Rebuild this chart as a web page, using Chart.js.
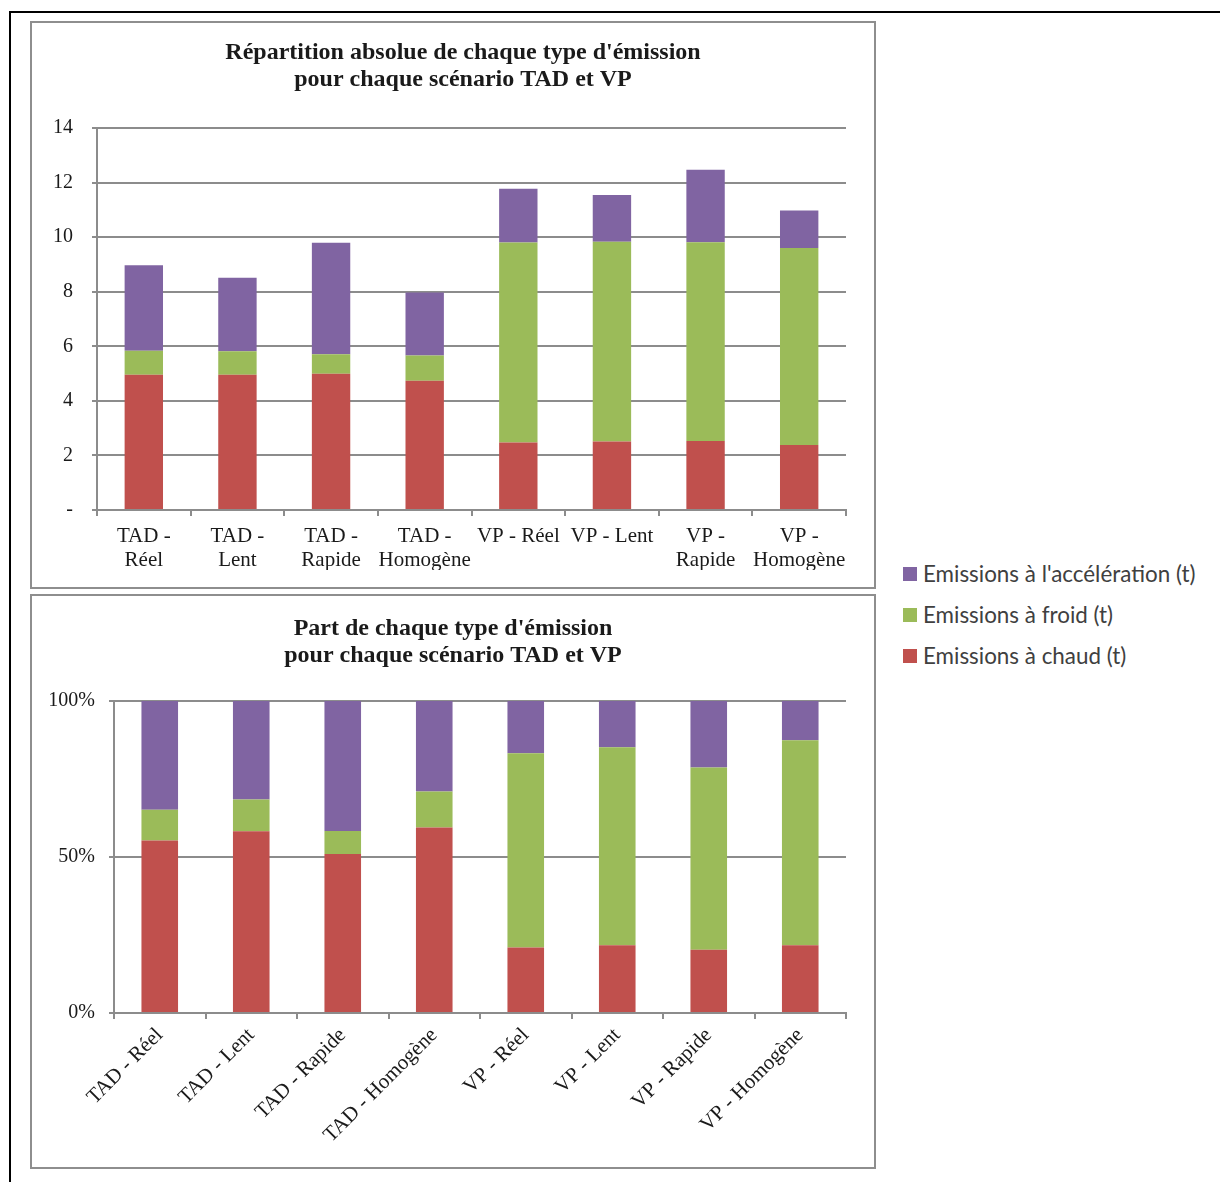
<!DOCTYPE html>
<html>
<head>
<meta charset="utf-8">
<script src="https://cdn.jsdelivr.net/npm/chart.js@4.4.0/dist/chart.umd.min.js"></script>
<style>
  body { margin: 0; background: #fff; width: 1220px; height: 1182px; position: relative; overflow: hidden; }
  #frame { position: absolute; left: 9px; top: 11px; width: 1300px; height: 1300px; border-top: 2px solid #000; border-left: 2px solid #000; }
  .box { position: absolute; left: 30px; width: 846px; border: 2px solid #8e8e8e; box-sizing: border-box; background: #fff; }
  #box1 { top: 21px; height: 568px; }
  #box2 { top: 594px; height: 575px; }
  .box canvas { display: block; }
  #legend { position: absolute; left: 903px; top: 553px; font-family: Lato, sans-serif; font-size: 22.4px; color: #404040; }
  .item { height: 41px; display: flex; align-items: center; }
  .sw { width: 14px; height: 14px; margin-right: 6px; }
</style>
</head>
<body>
<div id="frame"></div>
<div class="box" id="box1"><canvas id="absChart" width="842" height="564"></canvas></div>
<div class="box" id="box2"><canvas id="partChart" width="842" height="571"></canvas></div>
<div id="legend"></div>
<script>
var scenarios = ['TAD - Réel', 'TAD - Lent', 'TAD - Rapide', 'TAD - Homogène', 'VP - Réel', 'VP - Lent', 'VP - Rapide', 'VP - Homogène'];
var wrappedLabels = [['TAD -', 'Réel'], ['TAD -', 'Lent'], ['TAD -', 'Rapide'], ['TAD -', 'Homogène'], 'VP - Réel', 'VP - Lent', ['VP -', 'Rapide'], ['VP -', 'Homogène']];

// tonnes
var chaud = [4.96, 4.96, 4.99, 4.74, 2.47, 2.51, 2.53, 2.38];
var froid = [0.88, 0.86, 0.72, 0.92, 7.33, 7.32, 7.28, 7.22];
var accel = [3.13, 2.69, 4.08, 2.31, 1.97, 1.71, 2.66, 1.38];

var seriesNames = ['Emissions à chaud (t)', 'Emissions à froid (t)', "Emissions à l'accélération (t)"];
var colors = { red: '#C0504D', green: '#9BBB59', purple: '#8064A2', grid: '#8c8c8c', text: '#1a1a1a' };

var serif = 'Garamond, "Liberation Serif", "DejaVu Serif", serif';

function share(arr) {
  return arr.map(function(v, i) { return v / (chaud[i] + froid[i] + accel[i]) * 100; });
}

function datasets(a, b, c, barPct) {
  var vals = [a, b, c];
  var cols = [colors.red, colors.green, colors.purple];
  return vals.map(function(v, i) {
    return { label: seriesNames[i], data: v, backgroundColor: cols[i], barPercentage: barPct, categoryPercentage: 1 };
  });
}

// two-line title, the built-in one only centres on the full width
var boxTitle = {
  id: 'boxTitle',
  afterDraw: function(chart, args, opts) {
    var ctx = chart.ctx;
    ctx.save();
    ctx.font = 'bold 24px ' + serif;
    ctx.fillStyle = colors.text;
    ctx.textAlign = 'center';
    ctx.textBaseline = 'middle';
    opts.lines.forEach(function(t, i) { ctx.fillText(t, opts.x, opts.y + i * 27); });
    ctx.restore();
  }
};

Chart.defaults.font.family = serif;
Chart.defaults.color = colors.text;

var absChart = new Chart(document.getElementById('absChart').getContext('2d'), {
  type: 'bar',
  data: { labels: wrappedLabels, datasets: datasets(chaud, froid, accel, 0.41) },
  plugins: [boxTitle],
  options: {
    responsive: false,
    animation: false,
    layout: { padding: { left: 0, right: 28, top: 105, bottom: 17 } },
    plugins: {
      legend: { display: false },
      tooltip: { enabled: false },
      boxTitle: { lines: ["Répartition absolue de chaque type d'émission", 'pour chaque scénario TAD et VP'], x: 431, y: 30 }
    },
    scales: {
      x: {
        stacked: true,
        grid: { display: true, drawOnChartArea: false, drawTicks: true, tickLength: 6, color: colors.grid, lineWidth: 2, offset: true },
        border: { color: colors.grid, width: 2 },
        ticks: { font: { size: 21, lineHeight: 1.15 }, padding: 8, maxRotation: 0, autoSkip: false },
        afterFit: function(s) { s.height = 60; }
      },
      y: {
        stacked: true,
        min: 0,
        max: 14,
        ticks: { stepSize: 2, padding: 19, font: { size: 20 }, callback: function(v) { return v === 0 ? '-' : v; } },
        grid: { color: colors.grid, lineWidth: 2, tickLength: 5 },
        border: { color: colors.grid, width: 2 },
        afterFit: function(s) { s.width = 65; }
      }
    }
  }
});

var partChart = new Chart(document.getElementById('partChart').getContext('2d'), {
  type: 'bar',
  data: { labels: scenarios, datasets: datasets(share(chaud), share(froid), share(accel), 0.4) },
  plugins: [boxTitle],
  options: {
    responsive: false,
    animation: false,
    layout: { padding: { left: 0, right: 28, top: 105, bottom: 4 } },
    plugins: {
      legend: { display: false },
      tooltip: { enabled: false },
      boxTitle: { lines: ["Part de chaque type d'émission", 'pour chaque scénario TAD et VP'], x: 421, y: 33 }
    },
    scales: {
      x: {
        stacked: true,
        grid: { display: true, drawOnChartArea: false, drawTicks: true, tickLength: 6, color: colors.grid, lineWidth: 2, offset: true },
        border: { color: colors.grid, width: 2 },
        ticks: { font: { size: 21 }, padding: 4, minRotation: 45, maxRotation: 45, autoSkip: false },
        afterFit: function(s) { s.height = 150; }
      },
      y: {
        stacked: true,
        min: 0,
        max: 100,
        ticks: { stepSize: 50, padding: 14, font: { size: 20 }, callback: function(v) { return v + '%'; } },
        grid: { color: colors.grid, lineWidth: 2, tickLength: 5 },
        border: { color: colors.grid, width: 2 },
        afterFit: function(s) { s.width = 82; }
      }
    }
  }
});

// legend, top item = last dataset (stack order)
var legend = document.getElementById('legend');
absChart.data.datasets.slice().reverse().forEach(function(ds) {
  var row = document.createElement('div');
  row.className = 'item';
  var sw = document.createElement('span');
  sw.className = 'sw';
  sw.style.background = ds.backgroundColor;
  row.appendChild(sw);
  row.appendChild(document.createTextNode(ds.label));
  legend.appendChild(row);
});
</script>
</body>
</html>
